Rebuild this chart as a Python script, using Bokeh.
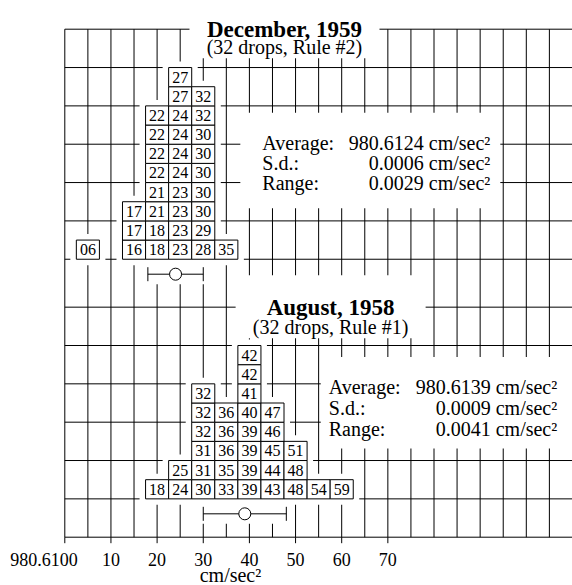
from bokeh.plotting import figure
from bokeh.core.properties import value
from bokeh.embed import file_html
from bokeh.resources import INLINE

# ---------------- data ----------------
dec_1959_leaves = ["06", "16", "17", "17", "18", "18", "21", "21", "22", "22", "22", "22",
                   "23", "23", "23", "23", "24", "24", "24", "24", "27", "27",
                   "28", "29", "30", "30", "30", "30", "30", "32", "32", "35"]
aug_1958_leaves = ["18", "24", "25", "30", "31", "31", "32", "32", "32",
                   "33", "35", "36", "36", "36", "39", "39", "39", "39", "40", "41", "42", "42",
                   "43", "44", "45", "46", "47", "48", "48", "51", "54", "59"]
dec_mean, dec_sd, dec_range = 980.6124, 0.0006, 0.0029
aug_mean, aug_sd, aug_range = 980.6139, 0.0009, 0.0041
dec_title, dec_sub = "December, 1959", "(32 drops, Rule #2)"
aug_title, aug_sub = "August, 1958", "(32 drops, Rule #1)"
origin = 980.6100
unit = 0.0001
bin_width = 5
tick_values = [0, 10, 20, 30, 40, 50, 60, 70]
tick_labels = ["980.6100", "10", "20", "30", "40", "50", "60", "70"]
stat_names = ["Average:", "S.d.:", "Range:"]
axis_title = "cm/sec\u00b2"

# ---------------- layout ----------------
W, H = 572, 585
SX, SY = 4.615, 19.17          # px per x unit, px per leaf row
AXIS_Y = -2.0                  # value-axis line (screen y ~536.7)
x0 = -64.3 / SX
x1 = x0 + W / SX
y1 = AXIS_Y + 536.7 / SY
y0 = y1 - H / SY


def px(n):
    return n / SX


def py(n):
    return n / SY


SERIF = value("Liberation Serif")
p = figure(width=W, height=H, x_range=(x0, x1), y_range=(y0, y1),
           output_backend="svg", toolbar_location=None,
           x_axis_location=None, y_axis_location=None,
           min_border=0, min_border_left=0, min_border_right=0, min_border_top=0,
           min_border_bottom=0)
p.outline_line_color = None
p.grid.visible = False
p.background_fill_color = "white"
p.border_fill_color = "white"

upper_base, lower_base = 12.5, 0.0
TOP_LINE = 24.5

# grid
vx = list(range(0, 106, 5))
p.segment(x0=vx, y0=[AXIS_Y] * len(vx), x1=vx, y1=[TOP_LINE] * len(vx), line_color="black", line_width=1)
hy = [AXIS_Y, 0, 2, 4, 6, 8, 10, 12.5, 14.5, 16.5, 18.5, 20.5, 22.5, TOP_LINE]
p.segment(x0=[0] * len(hy), y0=hy, x1=[x1 + 2] * len(hy), y1=hy, line_color="black", line_width=1)


def stack(leaves, base):
    cols = {}
    L, R, B, T, X, Y, S = [], [], [], [], [], [], []
    for s in leaves:
        v = int(s)
        c = bin_width * round(v / bin_width)
        k = cols.get(c, 0)
        cols[c] = k + 1
        L.append(c - bin_width / 2); R.append(c + bin_width / 2)
        B.append(base + k); T.append(base + k + 1)
        X.append(c); Y.append(base + k + 0.5); S.append(s)
    hl = [c - bin_width / 2 - px(6) for c in cols]
    hr = [c + bin_width / 2 + px(6) for c in cols]
    hb = [base - py(6) for c in cols]
    ht = [base + cols[c] + py(6) for c in cols]
    return (L, R, B, T, X, Y, S), (hl, hr, hb, ht)


panels = [
    (dec_1959_leaves, upper_base, dec_mean, dec_sd, dec_range, dec_title, dec_sub,
     47.6, 24.5, 23.56, 42.8, 92.2, 18.57, 1.05, 22, 10, 25),
    (aug_1958_leaves, lower_base, aug_mean, aug_sd, aug_range, aug_title, aug_sub,
     57.6, 10.0, 8.95, 57.2, 106.7, 5.84, 1.11, 8, 60, 19),
]

for (leaves, base, mean, sd, rng, title, sub, tx, tyb, syb, slx, srx, sy0, step,
     padl, padr, padb) in panels:
    boxes, halo = stack(leaves, base)
    m = round((mean - origin) / unit, 3)
    s = round(sd / unit, 3)
    ey = base - 0.78
    # white halos that interrupt the grid
    p.quad(left=halo[0], right=halo[1], bottom=halo[2], top=halo[3], fill_color="white", line_color=None)
    p.quad(left=[m - s - px(7)], right=[m + s + px(7)], bottom=[ey - py(10)], top=[base],
           fill_color="white", line_color=None)
    p.quad(left=[tx - px(95)], right=[tx + px(95)], bottom=[syb - py(11)], top=[tyb + py(32)],
           fill_color="white", line_color=None)
    lines_y = [sy0 - i * step for i in range(3)]
    p.quad(left=[slx - px(padl)], right=[srx + px(padr)], bottom=[lines_y[-1] - py(padb)],
           top=[sy0 + py(30)], fill_color="white", line_color=None)
    # boxes + leaves
    L, R, B, T, X, Y, S = boxes
    p.quad(left=L, right=R, bottom=B, top=T, fill_color="white", line_color="black", line_width=1)
    p.text(x=X, y=Y, text=S, text_font=SERIF, text_font_size="16px", text_align="center",
           text_baseline="middle", text_color="black")
    # mean +- sd
    p.segment(x0=[m - s], y0=[ey], x1=[m + s], y1=[ey], line_color="black", line_width=1)
    p.segment(x0=[m - s, m + s], y0=[ey - py(7)] * 2, x1=[m - s, m + s], y1=[ey + py(7)] * 2,
              line_color="black", line_width=1)
    p.scatter(x=[m], y=[ey], size=12, marker="circle", fill_color="white", line_color="black", line_width=1)
    # titles
    p.text(x=[tx], y=[tyb], text=[title], text_font=SERIF, text_font_size="23px",
           text_font_style="bold", text_align="center", text_baseline="alphabetic", text_color="black")
    p.text(x=[tx], y=[syb], text=[sub], text_font=SERIF, text_font_size="20px",
           text_align="center", text_baseline="alphabetic", text_color="black")
    # stats
    vals = [f"{mean:.4f} {axis_title}", f"{sd:.4f} {axis_title}", f"{rng:.4f} {axis_title}"]
    p.text(x=[slx] * 3, y=lines_y, text=stat_names, text_font=SERIF, text_font_size="20px",
           text_align="left", text_baseline="alphabetic", text_color="black")
    p.text(x=[srx] * 3, y=lines_y, text=vals, text_font=SERIF, text_font_size="20px",
           text_align="right", text_baseline="alphabetic", text_color="black")

# value axis: ticks and labels
p.segment(x0=tick_values, y0=[AXIS_Y] * len(tick_values), x1=tick_values,
          y1=[AXIS_Y - py(6)] * len(tick_values), line_color="black", line_width=1)
lab_x = [tick_values[0] + px(13)] + tick_values[1:]
lab_align = ["right"] + ["center"] * (len(tick_values) - 1)
p.text(x=lab_x, y=[AXIS_Y - py(22.5)] * len(tick_values), text=tick_labels, text_align=lab_align,
       text_font=SERIF, text_font_size="18px", text_baseline="alphabetic", text_color="black")
p.text(x=[35.9], y=[AXIS_Y - py(37.5)], text=[axis_title], text_align="center",
       text_font=SERIF, text_font_size="20px", text_baseline="alphabetic", text_color="black")

open("out.html", "w").write(file_html(p, INLINE))
